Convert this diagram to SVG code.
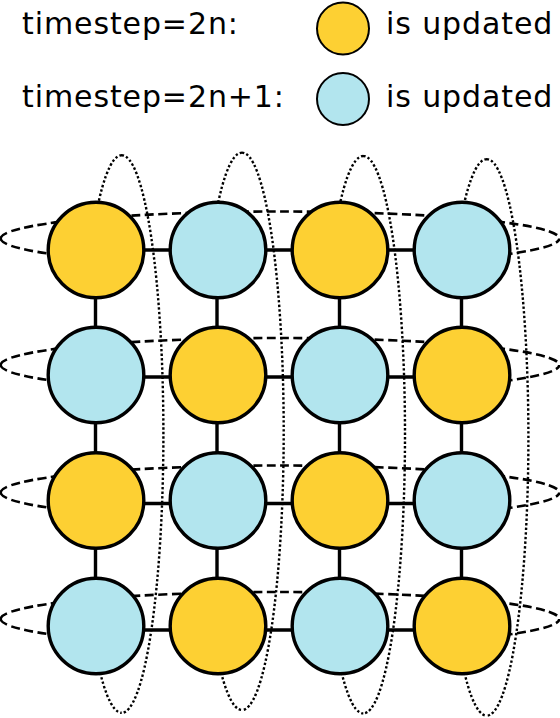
<svg xmlns="http://www.w3.org/2000/svg" width="560" height="718" viewBox="0 0 560 718">
<style>
.txt{font-family:"DejaVu Sans","Liberation Sans",sans-serif;font-size:30px;letter-spacing:0.9px;fill:#000}
.y{fill:#FDD033}
.b{fill:#B2E5EE}
.node{stroke:#000;stroke-width:3.4}
.leg{stroke:#000;stroke-width:2}
.dash{fill:none;stroke:#000;stroke-width:2.6;stroke-dasharray:9 4.5}
.dot{fill:none;stroke:#000;stroke-width:2.4;stroke-dasharray:2.4 2.2}
.conn{stroke:#000;stroke-width:3.4;fill:none}
</style>
<rect width="560" height="718" fill="#fff"/>
<g id="legend-even">
<text class="txt" x="22" y="34">timestep=2n:</text>
<circle class="y leg" cx="343" cy="28.5" r="26"/>
<text class="txt" x="386" y="34">is updated</text>
</g>
<g id="legend-odd">
<text class="txt" x="22" y="107">timestep=2n+1:</text>
<circle class="b leg" cx="343" cy="99" r="26"/>
<text class="txt" x="386" y="107">is updated</text>
</g>
<g id="row-boundaries">
<path class="dash" d="M0.7,238.5 A279.3,27 0 0 1 559.3,238.5 M0.7,238.5 A279.3,27 0 0 0 70,256.3 M490,256.3 A279.3,27 0 0 0 559.3,238.5"/>
<path class="dash" d="M0.7,365 A279.3,27 0 0 1 559.3,365 M0.7,365 A279.3,27 0 0 0 70,382.8 M490,382.8 A279.3,27 0 0 0 559.3,365"/>
<path class="dash" d="M0.7,492.5 A279.3,27 0 0 1 559.3,492.5 M0.7,492.5 A279.3,27 0 0 0 70,510.3 M490,510.3 A279.3,27 0 0 0 559.3,492.5"/>
<path class="dash" d="M0.7,619 A279.3,27 0 0 1 559.3,619 M0.7,619 A279.3,27 0 0 0 70,636.8 M490,636.8 A279.3,27 0 0 0 559.3,619"/>
</g>
<g id="column-boundaries">
<path class="dot" d="M121.7,155.2 A41.7,278.8 0 0 1 121.7,712.8 M121.7,155.2 A41.7,278.8 0 0 0 92.5,235 M93.8,641 A41.7,278.8 0 0 0 121.7,712.8"/>
<path class="dot" d="M242,152.6 A41.7,278.7 0 0 1 242,710 M242,152.6 A41.7,278.7 0 0 0 212.4,235 M214.5,641 A41.7,278.7 0 0 0 242,710"/>
<path class="dot" d="M363.3,156 A41.7,278.7 0 0 1 363.3,713.4 M363.3,156 A41.7,278.7 0 0 0 334.2,235 M335.3,641 A41.7,278.7 0 0 0 363.3,713.4"/>
<path class="dot" d="M486.7,159.1 A41.7,278.3 0 0 1 486.7,715.7 M486.7,159.1 A41.7,278.3 0 0 0 458.1,235 M458.3,641 A41.7,278.3 0 0 0 486.7,715.7"/>
</g>
<g id="connectors">
<path class="conn" d="M96,250 H462 M96,377 H462 M96,503.5 H462 M96,630 H462"/>
<path class="conn" d="M95.5,250 V626 M217,250 V626 M339.5,250 V626 M461.5,250 V626"/>
</g>
<g id="n11"><circle class="y node" cx="96" cy="250" r="47.8"/></g>
<g id="n12"><circle class="b node" cx="218" cy="250" r="47.8"/></g>
<g id="n13"><circle class="y node" cx="340" cy="250" r="47.8"/></g>
<g id="n14"><circle class="b node" cx="462" cy="250" r="47.8"/></g>
<g id="n21"><circle class="b node" cx="96" cy="375" r="47.8"/></g>
<g id="n22"><circle class="y node" cx="218" cy="375" r="47.8"/></g>
<g id="n23"><circle class="b node" cx="340" cy="375" r="47.8"/></g>
<g id="n24"><circle class="y node" cx="462" cy="375" r="47.8"/></g>
<g id="n31"><circle class="y node" cx="96" cy="500.5" r="47.8"/></g>
<g id="n32"><circle class="b node" cx="218" cy="500.5" r="47.8"/></g>
<g id="n33"><circle class="y node" cx="340" cy="500.5" r="47.8"/></g>
<g id="n34"><circle class="b node" cx="462" cy="500.5" r="47.8"/></g>
<g id="n41"><circle class="b node" cx="96" cy="626" r="47.8"/></g>
<g id="n42"><circle class="y node" cx="218" cy="626" r="47.8"/></g>
<g id="n43"><circle class="b node" cx="340" cy="626" r="47.8"/></g>
<g id="n44"><circle class="y node" cx="462" cy="626" r="47.8"/></g>
</svg>
